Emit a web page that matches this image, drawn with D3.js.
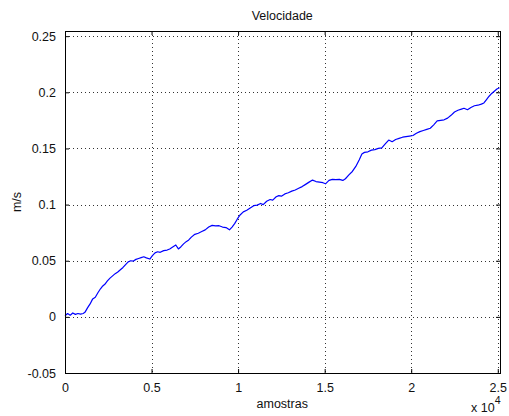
<!DOCTYPE html>
<html>
<head>
<meta charset="utf-8">
<script src="https://cdn.jsdelivr.net/npm/d3@7"></script>
<style>
html,body{margin:0;padding:0;background:#fff;}
svg{display:block;}
text{font-family:"Liberation Sans",Arial,sans-serif;fill:#111;}
</style>
</head>
<body>
<svg id="chart" width="509" height="416"></svg>
<script>
// ---- data ----
const samples = [0,150,300,450,600,750,900,1050,1150,1300,1450,1600,1750,1900,2050,2150,2300,2450,2600,2750,2900,3050,3200,3350,3500,3650,3800,3950,4100,4250,4400,4550,4700,4900,5050,5200,5350,5500,5700,5900,6050,6200,6400,6550,6700,6850,7000,7150,7300,7500,7700,7900,8100,8300,8500,8700,8900,9100,9300,9500,9650,9800,9950,10100,10300,10500,10700,10900,11100,11300,11450,11650,11850,12000,12200,12350,12500,12700,12900,13100,13300,13500,13700,13900,14100,14300,14500,14700,14900,15050,15250,15450,15650,15850,16050,16200,16400,16600,16800,17000,17150,17300,17500,17700,17900,18100,18300,18500,18700,18900,19100,19300,19500,19700,19900,20100,20300,20500,20700,20900,21100,21300,21500,21700,21900,22100,22300,22500,22700,22900,23050,23250,23450,23650,23850,24050,24200,24350,24500,24650,24800,24950,25100];
const velocity = [0.0010,0.0030,0.0015,0.0035,0.0022,0.0030,0.0025,0.0030,0.0040,0.0080,0.0115,0.0160,0.0175,0.0215,0.0250,0.0270,0.0290,0.0320,0.0345,0.0365,0.0385,0.0400,0.0420,0.0440,0.0465,0.0490,0.0500,0.0497,0.0512,0.0520,0.0528,0.0535,0.0525,0.0515,0.0545,0.0570,0.0580,0.0575,0.0590,0.0595,0.0605,0.0620,0.0640,0.0605,0.0625,0.0650,0.0670,0.0685,0.0710,0.0735,0.0745,0.0760,0.0775,0.0800,0.0815,0.0810,0.0812,0.0800,0.0795,0.0775,0.0800,0.0830,0.0870,0.0905,0.0935,0.0950,0.0970,0.0990,0.0995,0.1010,0.1000,0.1030,0.1045,0.1040,0.1070,0.1080,0.1075,0.1095,0.1105,0.1120,0.1130,0.1145,0.1160,0.1180,0.1200,0.1218,0.1205,0.1200,0.1195,0.1185,0.1215,0.1225,0.1222,0.1225,0.1215,0.1230,0.1265,0.1295,0.1340,0.1400,0.1450,0.1465,0.1470,0.1485,0.1490,0.1500,0.1505,0.1540,0.1575,0.1560,0.1580,0.1590,0.1600,0.1605,0.1610,0.1615,0.1635,0.1650,0.1660,0.1670,0.1680,0.1710,0.1745,0.1750,0.1755,0.1770,0.1795,0.1825,0.1840,0.1850,0.1858,0.1845,0.1865,0.1880,0.1885,0.1895,0.1905,0.1935,0.1965,0.1990,0.2010,0.2030,0.2040];
const xTicks = [0,5000,10000,15000,20000,25000];
const xTickLabels = ["0","0.5","1","1.5","2","2.5"];
const yTicks = [-0.05,0,0.05,0.1,0.15,0.2,0.25];
const yTickLabels = ["-0.05","0","0.05","0.1","0.15","0.2","0.25"];
const titleText = "Velocidade";
const xLabel = "amostras";
const yLabel = "m/s";

// ---- layout ----
const L = 65, R = 499.5, T = 31, B = 373;
const fs = 12.5;
const svg = d3.select("#chart");
const x = d3.scaleLinear().domain([0, 25100]).range([L, R]);
const y = d3.scaleLinear().domain([-0.05, 0.2546]).range([B, T]);
const px = v => Math.round(v) + 0.5;

// grid
const grid = svg.append("g").attr("stroke", "#333").attr("stroke-width", 1).attr("stroke-dasharray", "1,3");
xTicks.forEach(t => {
  grid.append("line").attr("x1", px(x(t))).attr("x2", px(x(t))).attr("y1", T).attr("y2", B);
});
yTicks.forEach(t => {
  grid.append("line").attr("x1", L).attr("x2", R).attr("y1", px(y(t))).attr("y2", px(y(t)));
});

// data line
const line = d3.line().x((d, i) => x(samples[i])).y(d => y(d));
svg.append("path").datum(velocity)
  .attr("d", line)
  .attr("fill", "none")
  .attr("stroke", "#0000ff")
  .attr("stroke-width", 1.2)
  .attr("stroke-linejoin", "round");

// box
svg.append("rect").attr("x", px(L)).attr("y", px(T)).attr("width", Math.round(R) - Math.round(L)).attr("height", Math.round(B) - Math.round(T))
  .attr("fill", "none").attr("stroke", "#000").attr("stroke-width", 1);

// axes (inward ticks)
const tl = 4;
const axB = d3.axisBottom(x).tickValues(xTicks).tickSize(-tl).tickPadding(tl + 6).tickFormat((d, i) => xTickLabels[i]);
const axT = d3.axisTop(x).tickValues(xTicks).tickSize(-tl).tickFormat("");
const axL = d3.axisLeft(y).tickValues(yTicks).tickSize(-tl).tickPadding(tl + 5).tickFormat((d, i) => yTickLabels[i]);
const axR = d3.axisRight(y).tickValues(yTicks).tickSize(-tl).tickFormat("");
function style(g) {
  g.select(".domain").remove();
  g.selectAll(".tick line").attr("stroke", "#000");
  g.selectAll("text").attr("font-size", fs).attr("font-family", "Liberation Sans, Arial, sans-serif").attr("fill", "#111");
}
svg.append("g").attr("transform", `translate(0,${Math.round(B)})`).call(axB).call(style);
svg.append("g").attr("transform", `translate(0,${Math.round(T)})`).call(axT).call(style);
svg.append("g").attr("transform", `translate(${Math.round(L)},0)`).call(axL).call(style);
svg.append("g").attr("transform", `translate(${Math.round(R)},0)`).call(axR).call(style);

// title & labels
svg.append("text").attr("x", (L + R) / 2).attr("y", 20).attr("text-anchor", "middle").attr("font-size", fs).text(titleText);
svg.append("text").attr("x", (L + R) / 2).attr("y", 408).attr("text-anchor", "middle").attr("font-size", fs).text(xLabel);
svg.append("text").attr("transform", `translate(21,${(T + B) / 2}) rotate(-90)`).attr("text-anchor", "middle").attr("font-size", fs).text(yLabel);
const ex = svg.append("text").attr("x", 471).attr("y", 412).attr("font-size", fs);
ex.append("tspan").text("x 10");
ex.append("tspan").attr("dy", -8).attr("font-size", fs * 0.85).text("4");
</script>
</body>
</html>
